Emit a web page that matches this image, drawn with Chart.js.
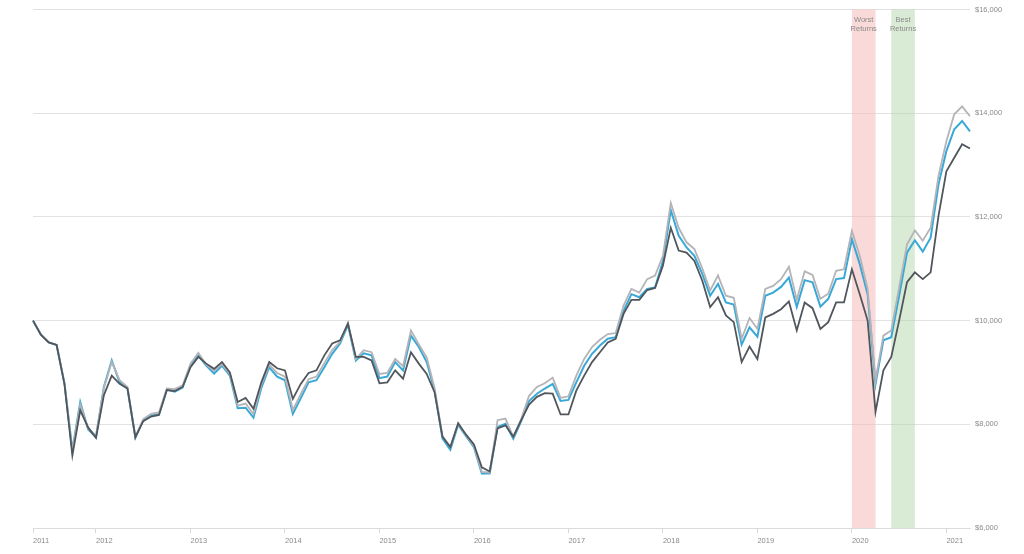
<!DOCTYPE html>
<html>
<head>
<meta charset="utf-8">
<script src="https://cdn.jsdelivr.net/npm/chart.js@4/dist/chart.umd.min.js"></script>
<style>
    body { margin: 0; background: #fff; }
    #wrap { width: 1024px; height: 554px; position: relative; }
</style>
</head>
<body>
<div id="wrap"><canvas id="growthChart"></canvas></div>
<script>
// monthly values, May 2011 - Apr 2021
const startYear = 2011;
const startMonth = 4; // May (0-based)
const monthCount = 120;

const blueSeries = [10000,9730,9580,9530,8790,7500,8430,7900,7750,8720,
    9230,8810,8690,7740,8080,8170,8190,8670,8630,8710,
    9120,9330,9130,8980,9130,8940,8310,8320,8130,8700,
    9100,8920,8850,8200,8500,8810,8850,9100,9360,9560,
    9920,9230,9370,9330,8890,8920,9200,9040,9710,9490,
    9200,8650,7730,7510,7990,7770,7560,7050,7050,7950,
    8010,7720,8060,8450,8590,8690,8780,8450,8470,8810,
    9130,9360,9520,9650,9680,10190,10510,10450,10610,10640,
    11150,12130,11640,11410,11250,10900,10480,10710,10350,10310,
    9540,9870,9690,10480,10540,10650,10830,10260,10780,10740,
    10270,10420,10800,10820,11570,11090,10510,8780,9620,9680,
    10480,11310,11550,11330,11600,12630,13270,13690,13850,13650];

const lightSeries = [10000,9730,9580,9530,8790,7480,8380,7920,7780,8700,
    9200,8850,8720,7760,8100,8200,8230,8690,8680,8750,
    9170,9380,9150,9030,9160,8970,8360,8400,8200,8760,
    9150,8990,8920,8280,8580,8870,8920,9180,9430,9590,
    9960,9260,9430,9390,8970,8990,9260,9120,9810,9540,
    9290,8700,7780,7560,8010,7790,7580,7080,7070,8080,
    8110,7760,8100,8550,8720,8790,8900,8510,8540,8940,
    9260,9490,9630,9740,9760,10290,10610,10540,10800,10870,
    11250,12270,11790,11510,11380,11010,10580,10870,10480,10440,
    9650,10050,9840,10610,10670,10800,11040,10400,10950,10880,
    10420,10520,10960,10990,11730,11250,10610,8850,9710,9810,
    10640,11470,11740,11540,11790,12790,13460,13980,14130,13940];

const darkSeries = [10000,9730,9580,9530,8770,7400,8270,7940,7740,8560,
    8940,8780,8690,7750,8060,8150,8180,8660,8640,8720,
    9100,9300,9170,9070,9200,9000,8430,8510,8300,8810,
    9200,9080,9040,8490,8780,8990,9040,9330,9560,9620,
    9940,9300,9300,9230,8790,8810,9040,8880,9390,9170,
    8970,8620,7760,7560,8020,7800,7610,7170,7090,7920,
    7980,7760,8080,8380,8530,8600,8590,8190,8190,8650,
    8940,9200,9390,9580,9650,10130,10400,10400,10590,10630,
    11060,11790,11350,11310,11150,10770,10260,10450,10100,9970,
    9200,9500,9260,10060,10130,10220,10370,9810,10350,10240,
    9840,9970,10350,10350,10990,10510,10000,8240,9040,9300,
    10000,10740,10930,10800,10930,12020,12880,13140,13400,13320];

const yTicks = [6000, 8000, 10000, 12000, 14000, 16000];

// shaded periods (month labels)
const bandNames = [['Worst', 'Returns'], ['Best', 'Returns']];
const bandStart = ['2020-01', '2020-06'];
const bandEnd = ['2020-04', '2020-09'];
const bandColors = ['rgba(245, 180, 180, 0.5)', 'rgba(170, 210, 160, 0.45)'];

const monthLabels = [];
for (let i = 0; i < monthCount; i++) {
    const y = startYear + Math.floor((startMonth + i) / 12);
    const m = (startMonth + i) % 12 + 1;
    monthLabels.push(y + '-' + String(m).padStart(2, '0'));
}

const bandPlugin = {
    id: 'bands',
    beforeDatasetsDraw(chart) {
        const ctx = chart.ctx;
        const xs = chart.scales.x;
        const area = chart.chartArea;
        ctx.save();
        bandNames.forEach((name, i) => {
            const x0 = xs.getPixelForValue(monthLabels.indexOf(bandStart[i]));
            const x1 = xs.getPixelForValue(monthLabels.indexOf(bandEnd[i]));
            ctx.fillStyle = bandColors[i];
            ctx.fillRect(x0, area.top, x1 - x0, area.bottom - area.top);
            ctx.fillStyle = '#8a8a8a';
            ctx.font = '7.5px "Liberation Sans", Arial, sans-serif';
            ctx.textAlign = 'center';
            ctx.textBaseline = 'middle';
            ctx.fillText(name[0], (x0 + x1) / 2, area.top + 10);
            ctx.fillText(name[1], (x0 + x1) / 2, area.top + 19);
        });
        ctx.restore();
    }
};

const labelFont = { family: '"Liberation Sans", Arial, sans-serif', size: 7.5 };

new Chart(document.getElementById('growthChart'), {
    type: 'line',
    data: {
        labels: monthLabels,
        datasets: [
            { data: darkSeries, borderColor: '#50565c', borderWidth: 1.8, pointRadius: 0, tension: 0 },
            { data: lightSeries, borderColor: '#b4b4b8', borderWidth: 1.8, pointRadius: 0, tension: 0 },
            { data: blueSeries, borderColor: '#38a8d6', borderWidth: 2, pointRadius: 0, tension: 0 }
        ]
    },
    options: {
        responsive: true,
        maintainAspectRatio: false,
        animation: false,
        layout: { padding: { left: 33, top: 8, right: 0, bottom: 0 } },
        plugins: {
            legend: { display: false },
            tooltip: { enabled: false }
        },
        scales: {
            x: {
                type: 'category',
                offset: false,
                grid: {
                    drawOnChartArea: false,
                    drawTicks: true,
                    tickLength: 5,
                    color: '#d8d8d8'
                },
                border: { color: '#dcdcdc' },
                ticks: {
                    autoSkip: false,
                    maxRotation: 0,
                    align: 'start',
                    padding: 3,
                    color: '#8a8a8a',
                    font: labelFont,
                    callback: function (value, index) {
                        const lab = monthLabels[index];
                        if (index === 0) return lab.slice(0, 4);
                        if (lab.endsWith('-01')) return lab.slice(0, 4);
                        return null;
                    }
                },
                afterFit: function (scale) { scale.height = 26; }
            },
            y: {
                position: 'right',
                min: 6000,
                max: 16000,
                afterBuildTicks: function (scale) {
                    scale.ticks = yTicks.map(v => ({ value: v }));
                },
                grid: { color: '#e2e2e2', drawTicks: false },
                border: { display: false },
                ticks: {
                    padding: 5,
                    color: '#8a8a8a',
                    font: labelFont,
                    callback: v => '$' + v.toLocaleString('en-US')
                },
                afterFit: function (scale) { scale.width = 54; }
            }
        }
    },
    plugins: [bandPlugin]
});
</script>
</body>
</html>
